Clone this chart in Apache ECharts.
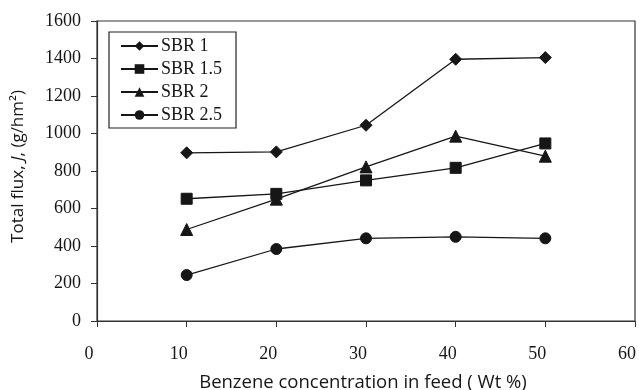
<!DOCTYPE html>
<html>
<head>
<meta charset="utf-8">
<script src="https://cdn.jsdelivr.net/npm/echarts@6/dist/echarts.min.js"></script>
<style>
  html, body { margin: 0; padding: 0; background: #fff; }
  #chart { width: 639px; height: 390px; }
</style>
</head>
<body>
<div id="chart"></div>
<script>
// Benzene concentration in feed (wt %)
const concentration = [10, 20, 30, 40, 50];

// Total flux (g/hm²) for each SBR membrane
const sbr1   = [897, 902, 1044, 1396, 1405];
const sbr15  = [652, 678, 750, 817, 947];
const sbr2   = [488, 650, 822, 986, 879];
const sbr25  = [245, 384, 441, 449, 441];

const seriesNames = ['SBR 1', 'SBR 1.5', 'SBR 2', 'SBR 2.5'];
const seriesValues = [sbr1, sbr15, sbr2, sbr25];
const symbols = ['diamond', 'rect', 'triangle', 'circle'];
const symbolSizes = [12, 11, 12, 11];

const ink = '#161616';
const serif = '"Liberation Serif", "Times New Roman", serif';
const sans = '"Open Sans", "DejaVu Sans", sans-serif';

const chart = echarts.init(document.getElementById('chart'), null, { renderer: 'canvas' });

chart.setOption({
  animation: false,
  backgroundColor: '#fff',
  grid: {
    left: 97, right: 4, top: 21, bottom: 69,
    outerBoundsMode: 'none',
    containLabel: false,
    show: true, borderColor: '#333', borderWidth: 1.2, backgroundColor: 'transparent'
  },
  legend: {
    orient: 'vertical',
    left: 109, top: 32,
    data: seriesNames,
    itemWidth: 37, itemHeight: 12,
    itemGap: 5,
    borderColor: '#222', borderWidth: 1.2,
    padding: [5, 14, 4, 11],
    textStyle: { fontFamily: serif, fontSize: 18, lineHeight: 18, color: ink, padding: [0, 0, 0, -2] }
  },
  xAxis: {
    type: 'value',
    min: 0, max: 60, interval: 10,
    name: 'Benzene concentration in feed ( Wt %)',
    nameLocation: 'middle', nameGap: 52,
    nameTextStyle: { fontFamily: sans, fontSize: 18.5, color: ink, padding: [0, 6, 0, 0] },
    axisLine: { show: true, lineStyle: { color: '#333', width: 1.2 } },
    axisTick: { show: true, inside: false, length: 6, lineStyle: { color: '#333' } },
    axisLabel: {
      fontFamily: serif, fontSize: 18, color: ink, margin: 24,
      padding: [0, 16, 0, 0],
      showMinLabel: true, showMaxLabel: true
    },
    splitLine: { show: false }
  },
  yAxis: {
    type: 'value',
    min: 0, max: 1600, interval: 200,
    name: '{a|Total flux, }{i|J}{a|, (g/hm²)}',
    nameLocation: 'middle', nameGap: 70, nameRotate: 90,
    nameTextStyle: {
      padding: [0, 0, 0, 9],
      rich: {
        a: { fontFamily: sans, fontSize: 17, color: ink },
        i: { fontFamily: sans, fontSize: 17, color: ink, fontStyle: 'italic' }
      }
    },
    axisLine: { show: true, lineStyle: { color: '#333', width: 1.2 } },
    axisTick: { show: true, inside: false, length: 6, lineStyle: { color: '#333' } },
    axisLabel: { fontFamily: serif, fontSize: 18, color: ink, margin: 16, formatter: v => String(v) },
    splitLine: { show: false }
  },
  series: seriesNames.map((name, k) => ({
    name: name,
    type: 'line',
    data: concentration.map((x, i) => [x, seriesValues[k][i]]),
    symbol: symbols[k],
    symbolSize: symbolSizes[k],
    showAllSymbol: true,
    lineStyle: { color: ink, width: 1.3 },
    itemStyle: { color: ink, borderColor: ink },
    emphasis: { disabled: true }
  }))
});
</script>
</body>
</html>
